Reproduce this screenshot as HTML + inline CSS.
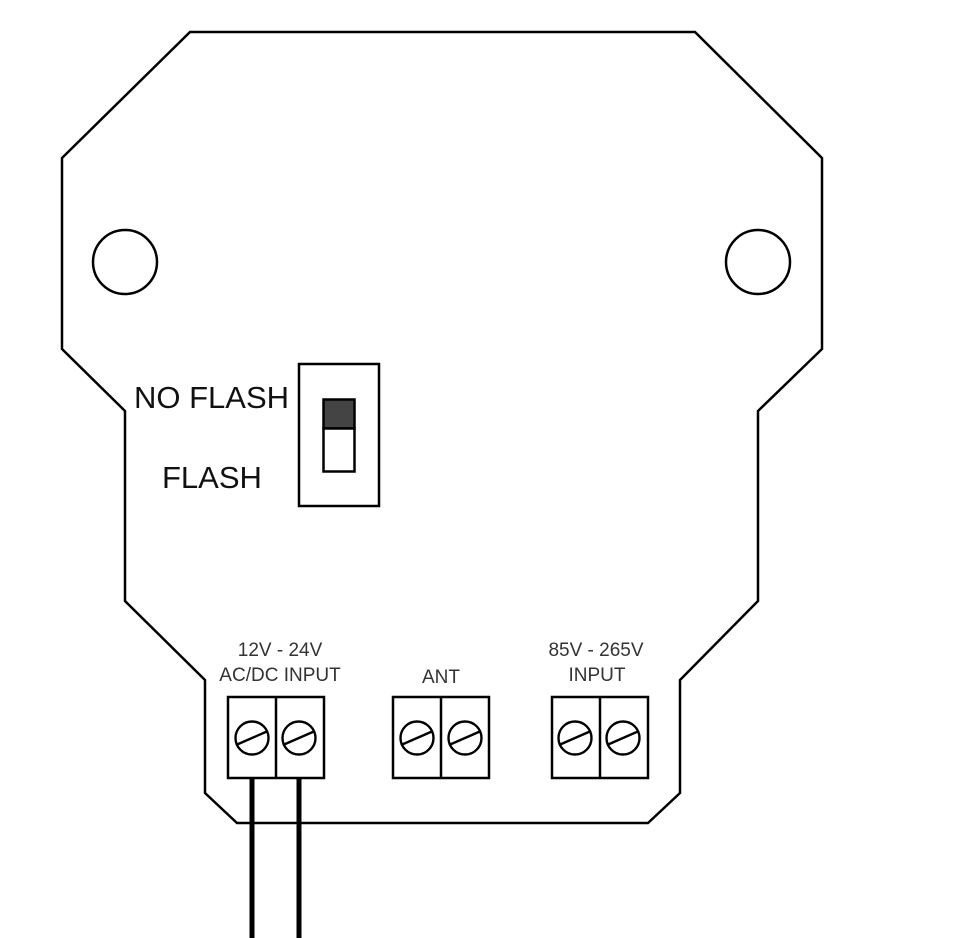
<!DOCTYPE html>
<html><head><style>html,body{margin:0;padding:0;background:#fff}svg{display:block}</style></head>
<body>
<svg width="975" height="938" viewBox="0 0 975 938" xmlns="http://www.w3.org/2000/svg">
<rect width="975" height="938" fill="#fff"/>
<polygon points="190,32 695,32 822,158 822,349 758,411 758,601 680,680 680,793 648,823 237,823 205,793 205,680 125,601 125,411 62,349 62,158" fill="none" stroke="#000" stroke-width="2.5" stroke-linejoin="miter"/>
<circle cx="125" cy="262" r="32" fill="none" stroke="#000" stroke-width="2.5"/>
<circle cx="758" cy="262" r="32" fill="none" stroke="#000" stroke-width="2.5"/>
<rect x="299" y="364" width="80" height="142" fill="none" stroke="#000" stroke-width="2.5"/>
<rect x="323.5" y="399.5" width="31" height="29" fill="#444" stroke="#000" stroke-width="2.5"/>
<rect x="323.5" y="428.5" width="31" height="43" fill="#fff" stroke="#000" stroke-width="2.5"/>
<g font-family="Liberation Sans, sans-serif" fill="#111">
<text x="134" y="408" font-size="31">NO FLASH</text>
<text x="162" y="488" font-size="31">FLASH</text>
</g>
<g font-family="Liberation Sans, sans-serif" fill="#333" font-size="19" text-anchor="middle">
<text x="280" y="656">12V - 24V</text>
<text x="280" y="681">AC/DC INPUT</text>
<text x="441" y="683">ANT</text>
<text x="596" y="656">85V - 265V</text>
<text x="597" y="681">INPUT</text>
</g>
<g fill="none" stroke="#000" stroke-width="2.5">
<rect x="228" y="697" width="96" height="81"/><line x1="276" y1="697" x2="276" y2="778"/>
<rect x="393" y="697" width="96" height="81"/><line x1="441" y1="697" x2="441" y2="778"/>
<rect x="552" y="697" width="96" height="81"/><line x1="600" y1="697" x2="600" y2="778"/>
<g stroke-width="2.4">
<circle cx="252" cy="738" r="16.5"/><line x1="236" y1="745" x2="268" y2="731"/>
<circle cx="299" cy="738" r="16.5"/><line x1="283" y1="745" x2="315" y2="731"/>
<circle cx="417" cy="738" r="16.5"/><line x1="401" y1="745" x2="433" y2="731"/>
<circle cx="465" cy="738" r="16.5"/><line x1="449" y1="745" x2="481" y2="731"/>
<circle cx="575" cy="738" r="16.5"/><line x1="559" y1="745" x2="591" y2="731"/>
<circle cx="623" cy="738" r="16.5"/><line x1="607" y1="745" x2="639" y2="731"/>
</g>
</g>
<line x1="252" y1="778" x2="252" y2="938" stroke="#000" stroke-width="5"/>
<line x1="299" y1="778" x2="299" y2="938" stroke="#000" stroke-width="5"/>
</svg>
</body></html>
